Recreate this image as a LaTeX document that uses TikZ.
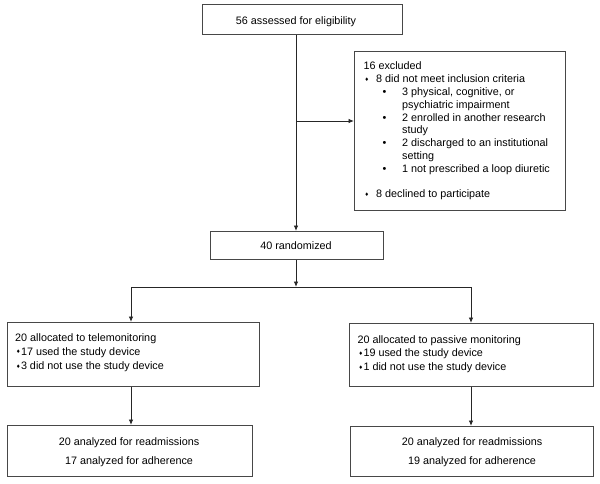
\documentclass[tikz,border=0pt]{standalone}
\usepackage{fontspec}
\setmainfont{Liberation Sans}
\newfontfamily\djv{DejaVu Sans}
\usetikzlibrary{arrows.meta}
\newcommand\dbul{\raisebox{1.2pt}{\djv\fontsize{5}{5}\selectfont ♦}}
\newcommand\rbul{•}
\begin{document}
\begin{tikzpicture}[x=1pt,y=-1pt,
  box/.style={draw=black!72, line width=0.9pt, inner sep=0pt, anchor=north west},
  txt/.style={anchor=base west, inner sep=0pt, font=\fontsize{10.8}{12.7}\selectfont},
  ctxt/.style={anchor=base, inner sep=0pt, font=\fontsize{10.8}{12.7}\selectfont},
  ln/.style={draw=black!85, line width=0.9pt},
  arr/.style={ln, -{Latex[length=5.5pt,width=4.5pt]}}]
\useasboundingbox[fill=white] (0,0) rectangle (600,483);
% boxes
\node[box, minimum width=200pt, minimum height=30pt] (a) at (202,4) {};
\node[box, minimum width=211pt, minimum height=159pt] (e) at (354,51) {};
\node[box, minimum width=173pt, minimum height=28pt] (r) at (210,231) {};
\node[box, minimum width=252pt, minimum height=64pt] (l1) at (7,322) {};
\node[box, minimum width=244pt, minimum height=63pt] (r1) at (349,323) {};
\node[box, minimum width=245pt, minimum height=51pt] (l2) at (7,425) {};
\node[box, minimum width=243pt, minimum height=50pt] (r2) at (350,426) {};
% texts
\node[ctxt] (ta) at (296,24.5) {56 assessed for eligibility};
\node[ctxt] (tr) at (296,249.5) {40 randomized};
\node[txt] (e1) at (363.3,69.5) {16 excluded};
\node[txt] (e2) at (364.5,82.5) {\makebox[11.5pt][l]{\dbul}8 did not meet inclusion criteria};
\node[txt] (e3) at (382.5,95.5) {\makebox[19.5pt][l]{\rbul}3 physical, cognitive, or};
\node[txt] (e4) at (402,108) {psychiatric impairment};
\node[txt] (e5) at (382.5,121) {\makebox[19.5pt][l]{\rbul}2 enrolled in another research};
\node[txt] (e6) at (402,133.5) {study};
\node[txt] (e7) at (382.5,146.5) {\makebox[19.5pt][l]{\rbul}2 discharged to an institutional};
\node[txt] (e8) at (402,159) {setting};
\node[txt] (e9) at (382.5,172) {\makebox[19.5pt][l]{\rbul}1 not prescribed a loop diuretic};
\node[txt] (e10) at (364.5,197.5) {\makebox[11.5pt][l]{\dbul}8 declined to participate};
\node[txt] (la) at (15,341.5) {20 allocated to telemonitoring};
\node[txt] (lb) at (16,355) {\makebox[4.8pt][l]{\dbul}17 used the study device};
\node[txt] (lc) at (16,369.5) {\makebox[4.8pt][l]{\dbul}3 did not use the study device};
\node[txt] (ra) at (357.3,343) {20 allocated to passive monitoring};
\node[txt] (rb) at (358.5,356.5) {\makebox[4.8pt][l]{\dbul}19 used the study device};
\node[txt] (rc) at (358.5,370.5) {\makebox[4.8pt][l]{\dbul}1 did not use the study device};
\node[ctxt] (lx) at (129,445) {20 analyzed for readmissions};
\node[ctxt] (ly) at (129,464) {17 analyzed for adherence};
\node[ctxt] (rx) at (472,445) {20 analyzed for readmissions};
\node[ctxt] (ry) at (472,464) {19 analyzed for adherence};
% connectors
\coordinate (ej) at (296,121);
\coordinate (sp) at (296,287);
\coordinate (bl) at (131,287);
\coordinate (br) at (471,287);
\draw[arr] (a.south -| ej) -- (r.north -| ej);
\draw[arr] (ej) -- (ej -| e.west);
\draw[arr] (r.south -| sp) -- (sp);
\draw[ln] (bl) -- (br);
\draw[arr] (bl) -- (bl |- l1.north);
\draw[arr] (br) -- (br |- r1.north);
\draw[arr] (bl |- l1.south) -- (bl |- l2.north);
\draw[arr] (br |- r1.south) -- (br |- r2.north);
\end{tikzpicture}
\end{document}
